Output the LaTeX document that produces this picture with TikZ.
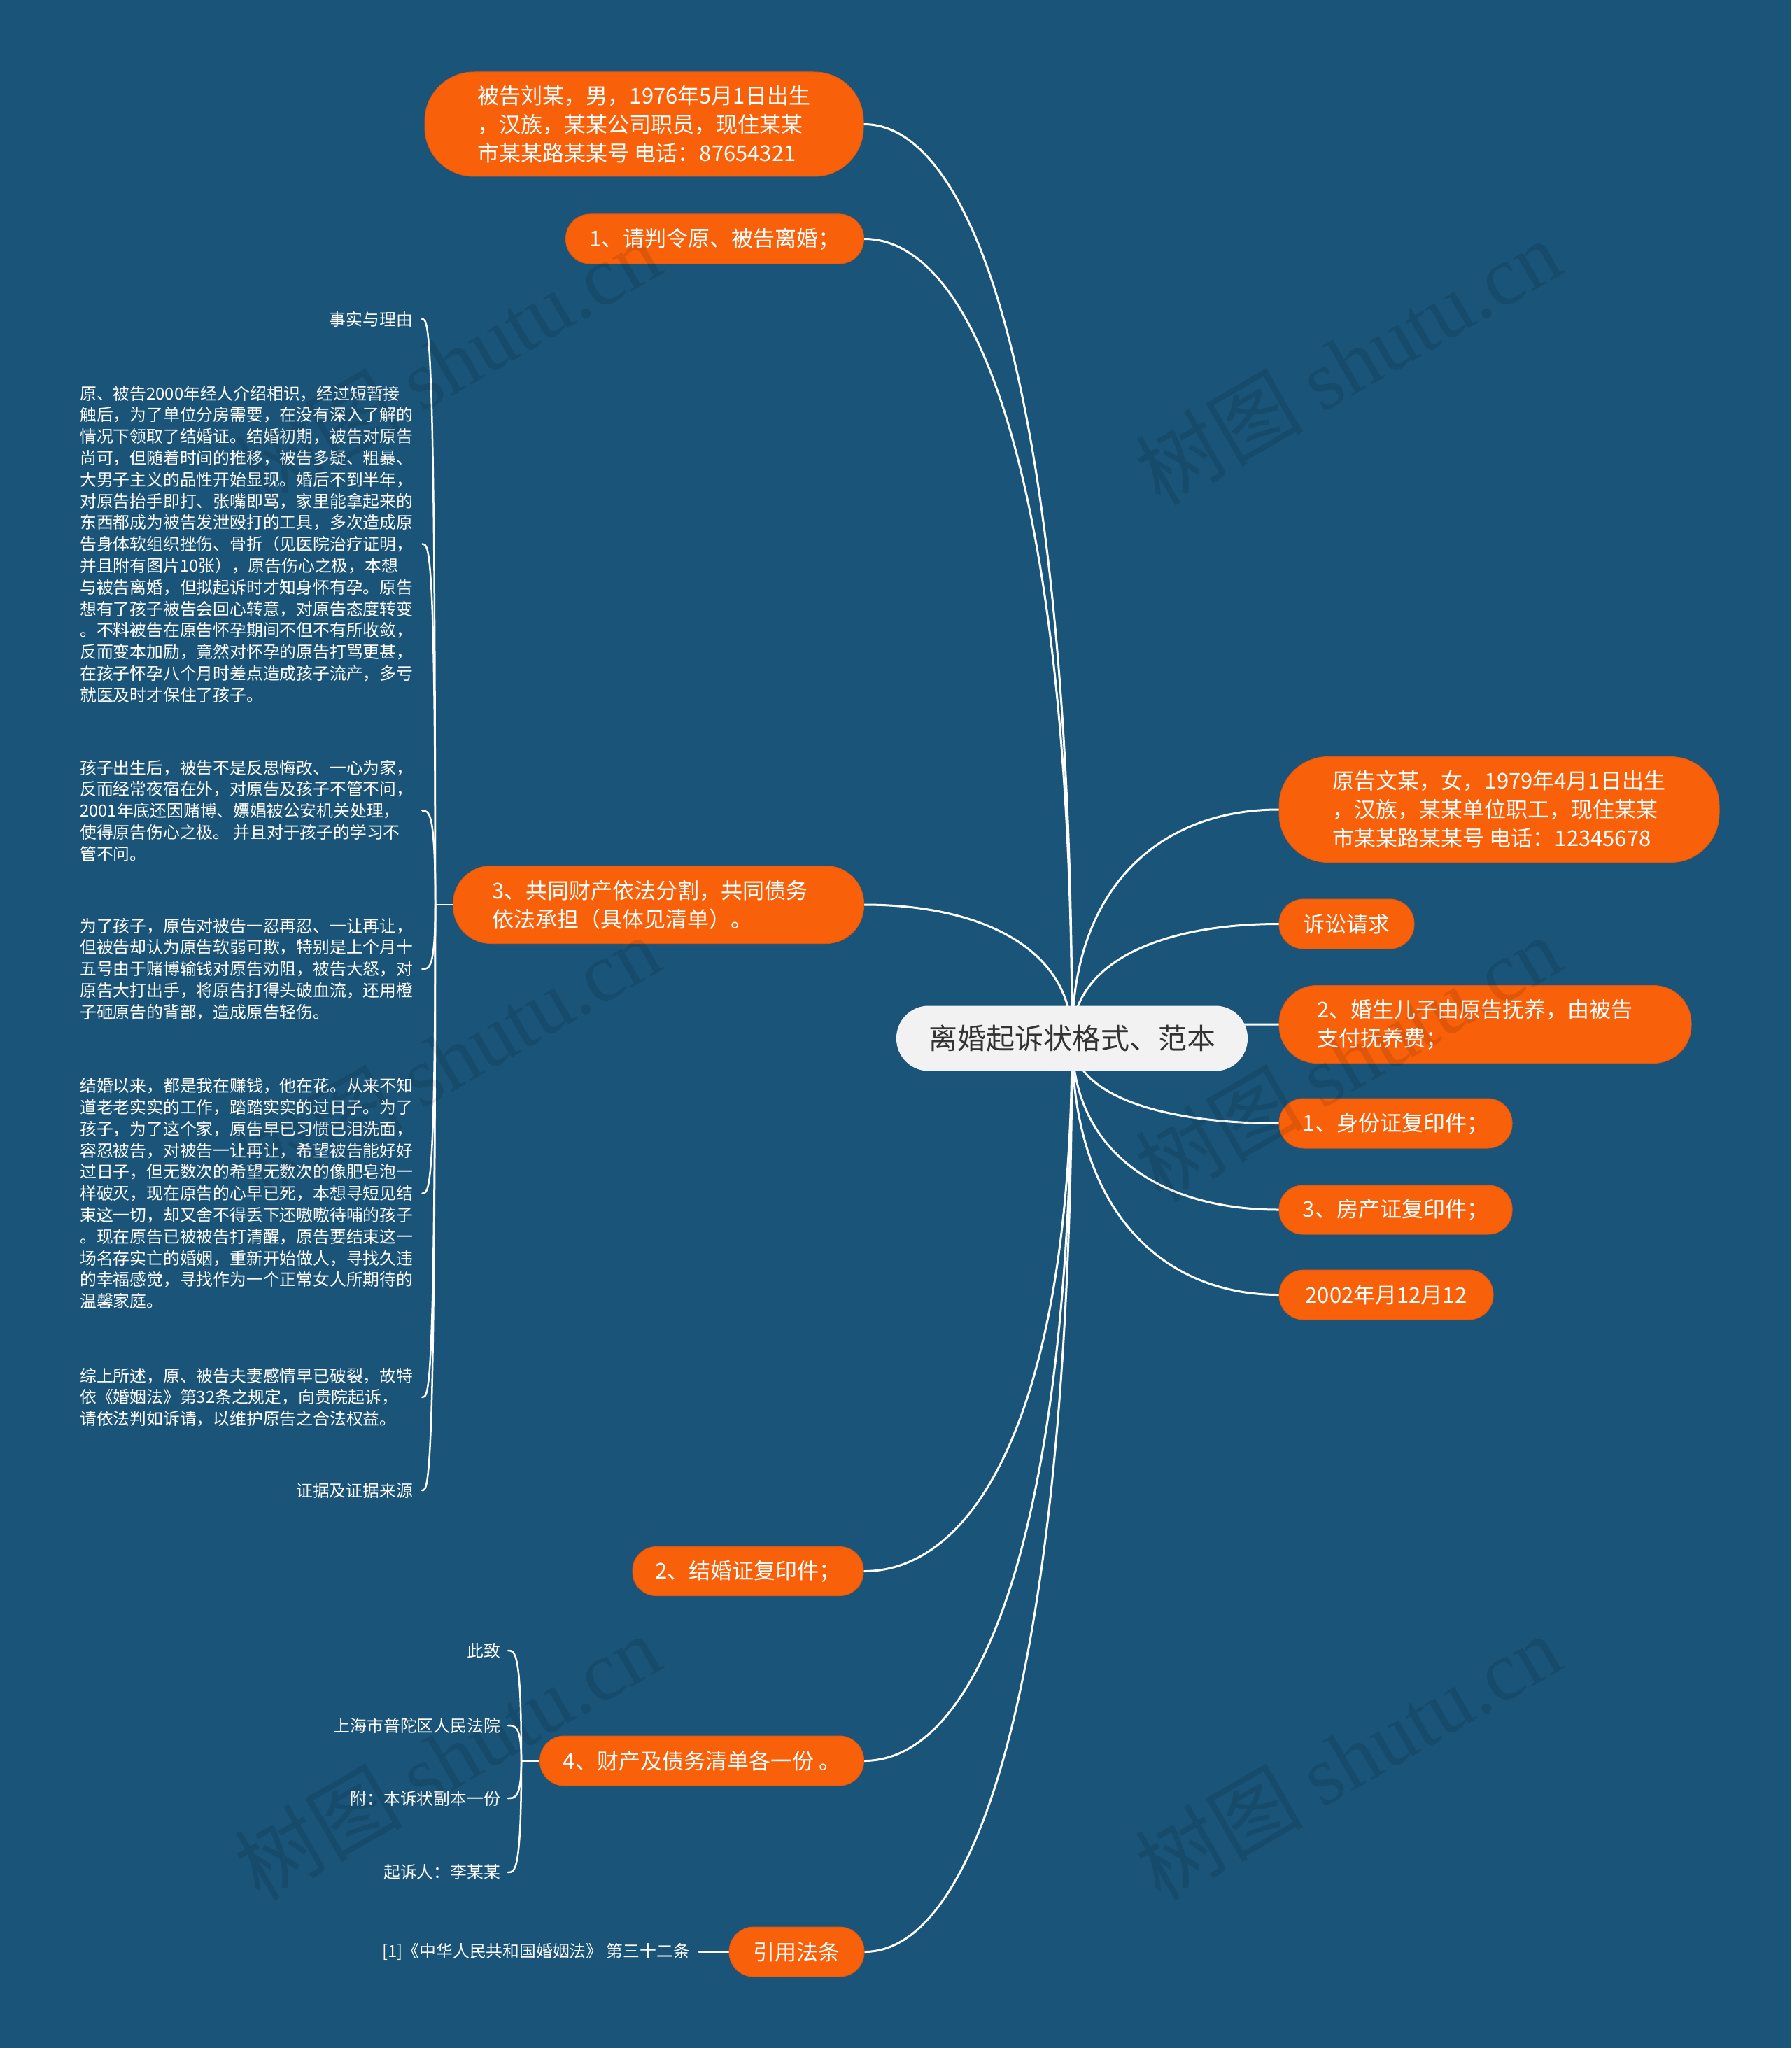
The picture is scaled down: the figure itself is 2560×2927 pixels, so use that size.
\documentclass[tikz,border=0pt]{standalone}
\usepackage{fontspec}
\setmainfont{Noto Sans CJK SC}
\newfontfamily\wmlatin{Liberation Serif}
\usetikzlibrary{calc}
\definecolor{bgblue}{RGB}{26,84,120}
\definecolor{mmorange}{RGB}{249,96,10}
\definecolor{mmorangeedge}{RGB}{222,88,20}
\definecolor{rootfill}{RGB}{242,242,242}
\definecolor{roottext}{RGB}{51,51,51}
\pgfdeclarelayer{edgelayer}
\pgfsetlayers{edgelayer,main}
\tikzset{
  rootbox/.style={fill=rootfill, text=roottext, inner sep=0pt, minimum width=502pt, minimum height=93pt, rounded corners=46pt, font=\fontsize{41}{50}\selectfont},
  obox/.style={fill=mmorange, draw=mmorangeedge, line width=1pt, text=white, inner sep=0pt, font=\fontsize{31}{41}\selectfont},
  leaf/.style={text=white, inner xsep=13pt, inner ysep=0pt, align=left, font=\fontsize{23.8}{30.8}\selectfont},
  leafsmall/.style={text=white, inner xsep=11pt, inner ysep=0pt, align=left, font=\fontsize{23.8}{30}\selectfont},
  mmedge/.style={draw=white, line width=3pt, line cap=round},
  bracelink/.style={draw=white, line width=2.5pt, line cap=round},
  wmark/.style={rotate=30, text=black, text opacity=0.1, inner sep=0pt, font=\fontsize{120}{120}\selectfont}
}
\begin{document}
\begin{tikzpicture}[x=1pt,y=-1pt]
\useasboundingbox (0,0) rectangle (2560,2927);
\begin{pgfonlayer}{edgelayer}
\fill[bgblue] (0,0) rectangle (2560,2927);
\end{pgfonlayer}

% root
\node[rootbox] (root) at (1532,1484) {离婚起诉状格式、范本};

% left main branches
\node[obox, minimum width=627pt, minimum height=149pt, rounded corners=70pt, align=left] (nA) at (920.5,177.5) {被告刘某，男，1976年5月1日出生\\%
，汉族，某某公司职员，现住某某\\%
市某某路某某号 电话：87654321};
\node[obox, minimum width=426pt, minimum height=71pt, rounded corners=35pt] (nB) at (1021.5,341.5) {1、请判令原、被告离婚；};
\node[obox, minimum width=587pt, minimum height=111pt, rounded corners=54pt, text width=476pt, align=left] (nC) at (941,1293) {3、共同财产依法分割，共同债务\\%
依法承担（具体见清单）。};
\node[obox, minimum width=330pt, minimum height=70pt, rounded corners=34pt] (nD) at (1069,2245.5) {2、结婚证复印件；};
\node[obox, minimum width=463pt, minimum height=71pt, rounded corners=35pt] (nE) at (1003,2516.5) {4、财产及债务清单各一份 。};
\node[obox, minimum width=193pt, minimum height=71pt, rounded corners=35pt] (nF) at (1138.5,2789.5) {引用法条};

% right main branches
\node[obox, minimum width=629pt, minimum height=151pt, rounded corners=70pt, align=left] (nG) at (2142.5,1157) {原告文某，女，1979年4月1日出生\\%
，汉族，某某单位职工，现住某某\\%
市某某路某某号 电话：12345678};
\node[obox, minimum width=193pt, minimum height=71pt, rounded corners=35pt] (nH) at (1924.5,1320.5) {诉讼请求};
\node[obox, minimum width=589pt, minimum height=111pt, rounded corners=54pt, text width=480pt, align=left] (nI) at (2122.5,1464) {2、婚生儿子由原告抚养，由被告\\%
支付抚养费；};
\node[obox, minimum width=333pt, minimum height=71pt, rounded corners=35pt] (nJ) at (1994.5,1605.5) {1、身份证复印件；};
\node[obox, minimum width=333pt, minimum height=70pt, rounded corners=34pt] (nK) at (1994.5,1729) {3、房产证复印件；};
\node[obox, minimum width=306pt, minimum height=71pt, rounded corners=35pt] (nL) at (1981,1850.5) {2002年月12月12};

% children of nC
\node[leaf, anchor=east] (c1) at (603,456) {事实与理由};
\node[leaf, anchor=west] (c2) at (101,777.5) {原、被告2000年经人介绍相识，经过短暂接\\%
触后，为了单位分房需要，在没有深入了解的\\%
情况下领取了结婚证。结婚初期，被告对原告\\%
尚可，但随着时间的推移，被告多疑、粗暴、\\%
大男子主义的品性开始显现。婚后不到半年，\\%
对原告抬手即打、张嘴即骂，家里能拿起来的\\%
东西都成为被告发泄殴打的工具，多次造成原\\%
告身体软组织挫伤、骨折（见医院治疗证明，\\%
并且附有图片10张），原告伤心之极，本想\\%
与被告离婚，但拟起诉时才知身怀有孕。原告\\%
想有了孩子被告会回心转意，对原告态度转变\\%
。不料被告在原告怀孕期间不但不有所收敛，\\%
反而变本加励，竟然对怀孕的原告打骂更甚，\\%
在孩子怀孕八个月时差点造成孩子流产，多亏\\%
就医及时才保住了孩子。};
\node[leaf, anchor=west] (c3) at (101,1158.5) {孩子出生后，被告不是反思悔改、一心为家，\\%
反而经常夜宿在外，对原告及孩子不管不问，\\%
2001年底还因赌博、嫖娼被公安机关处理，\\%
使得原告伤心之极。 并且对于孩子的学习不\\%
管不问。};
\node[leaf, anchor=west] (c4) at (101,1385) {为了孩子，原告对被告一忍再忍、一让再让，\\%
但被告却认为原告软弱可欺，特别是上个月十\\%
五号由于赌博输钱对原告劝阻，被告大怒，对\\%
原告大打出手，将原告打得头破血流，还用橙\\%
子砸原告的背部，造成原告轻伤。};
\node[leaf, anchor=west] (c5) at (101,1705.6) {结婚以来，都是我在赚钱，他在花。从来不知\\%
道老老实实的工作，踏踏实实的过日子。为了\\%
孩子，为了这个家，原告早已习惯已泪洗面，\\%
容忍被告，对被告一让再让，希望被告能好好\\%
过日子，但无数次的希望无数次的像肥皂泡一\\%
样破灭，现在原告的心早已死，本想寻短见结\\%
束这一切，却又舍不得丢下还嗷嗷待哺的孩子\\%
。现在原告已被被告打清醒，原告要结束这一\\%
场名存实亡的婚姻，重新开始做人，寻找久违\\%
的幸福感觉，寻找作为一个正常女人所期待的\\%
温馨家庭。};
\node[leaf, anchor=west] (c6) at (101,1997) {综上所述，原、被告夫妻感情早已破裂，故特\\%
依《婚姻法》第32条之规定，向贵院起诉，\\%
请依法判如诉请，以维护原告之合法权益。};
\node[leaf, anchor=east] (c7) at (603,2130) {证据及证据来源};
\coordinate (J) at (622,1293);

% children of nE
\node[leafsmall, anchor=east] (e1) at (726,2359) {此致};
\node[leafsmall, anchor=east] (e2) at (726,2466) {上海市普陀区人民法院};
\node[leafsmall, anchor=east] (e3) at (726,2570) {附：本诉状副本一份};
\node[leafsmall, anchor=east] (e4) at (726,2676) {起诉人：李某某};
\coordinate (K) at (745,2516.5);

% child of nF
\node[leafsmall, anchor=east, inner xsep=13pt] (f1) at (999,2789.5) {[1]《中华人民共和国婚姻法》 第三十二条};

% connectors
\begin{pgfonlayer}{edgelayer}
\foreach \n in {nA,nB,nC,nD,nE,nF}{
  \draw[mmedge] (root.center) .. controls ($(root.center)!0.68!(root.center |- \n.east)$) and ($(\n.east)!0.556!(root.center |- \n.east)$) .. (\n.east);
}
\foreach \n in {nG,nH,nI,nJ,nK,nL}{
  \draw[mmedge] (root.center) .. controls ($(root.center)!0.68!(root.center |- \n.west)$) and ($(\n.west)!0.556!(root.center |- \n.west)$) .. (\n.west);
}
\draw[bracelink] (nC.west) -- (J);
\foreach \c in {c1,c2,c3,c4,c5,c6,c7}{
  \draw[bracelink] (J) .. controls (J |- \c.east) and ([xshift=10pt]\c.east) .. (\c.east);
}
\draw[bracelink] (nE.west) -- (K);
\foreach \c in {e1,e2,e3,e4}{
  \draw[bracelink] (K) .. controls (K |- \c.east) and ([xshift=10pt]\c.east) .. (\c.east);
}
\draw[mmedge, line width=3.5pt] (nF.west) -- (f1.east);
\end{pgfonlayer}

% watermarks
\foreach \wx/\wy [count=\i] in {639/517, 1926/517, 639/1512, 1926/1512, 639/2511, 1926/2511}{
  \node[wmark] (wm\i) at (\wx,\wy) {树图 {\wmlatin shutu.cn}};
}
\end{tikzpicture}
\end{document}
